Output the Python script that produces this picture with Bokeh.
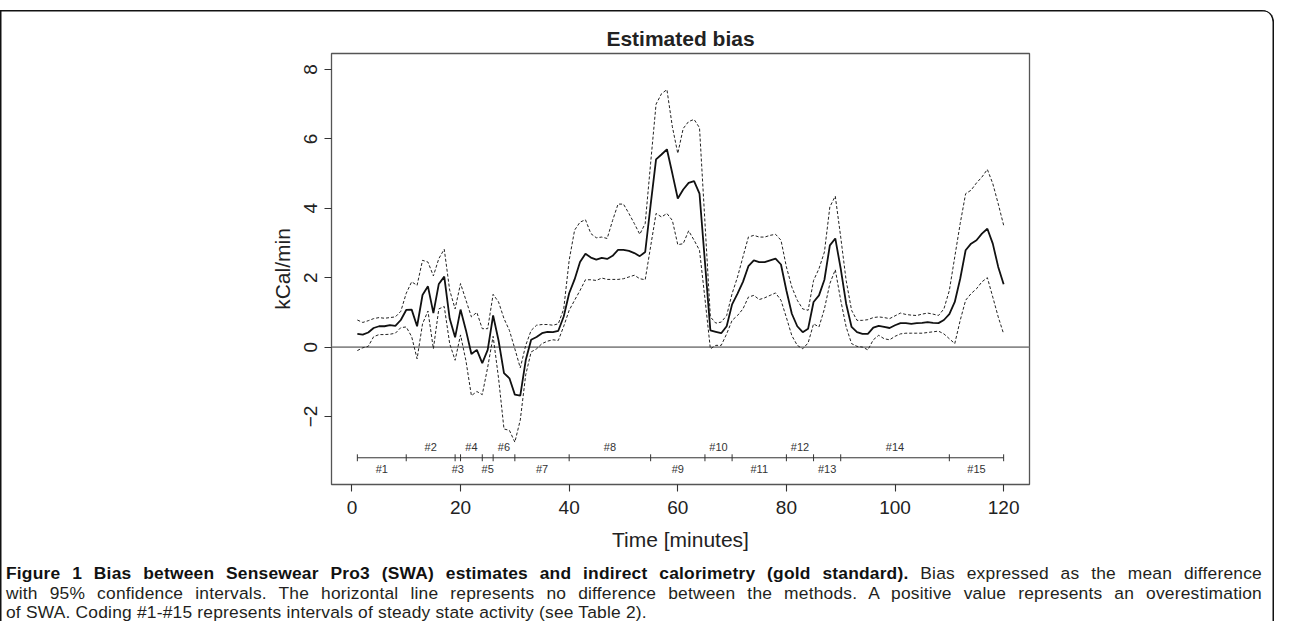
from bokeh.plotting import figure
from bokeh.models import Range1d, Span, LabelSet, ColumnDataSource, Spacer, Div
from bokeh.layouts import column
from bokeh.embed import file_html
from bokeh.resources import INLINE
from bokeh.core.properties import value

# ---------------- data ----------------
minutes = list(range(1, 121))

mean_bias = [
    0.38, 0.36, 0.42, 0.55, 0.60, 0.60, 0.63, 0.61, 0.78, 1.07,
    1.08, 0.60, 1.50, 1.75, 0.98, 1.82, 2.03, 0.82, 0.28, 1.08,
    0.48, -0.20, -0.08, -0.46, -0.08, 0.91, 0.19, -0.75, -0.90, -1.37,
    -1.40, -0.38, 0.21, 0.29, 0.40, 0.44, 0.43, 0.47, 0.88, 1.55,
    1.95, 2.45, 2.69, 2.58, 2.52, 2.57, 2.54, 2.63, 2.80, 2.80,
    2.77, 2.71, 2.62, 2.74, 4.10, 5.41, 5.55, 5.70, 5.00, 4.28,
    4.54, 4.73, 4.78, 4.42, 2.45, 0.48, 0.44, 0.40, 0.60, 1.23,
    1.54, 1.88, 2.33, 2.50, 2.45, 2.45, 2.50, 2.55, 2.38, 1.63,
    0.96, 0.60, 0.43, 0.53, 1.30, 1.49, 1.94, 2.93, 3.13, 2.26,
    1.25, 0.58, 0.43, 0.38, 0.38, 0.56, 0.61, 0.58, 0.55, 0.63,
    0.69, 0.69, 0.67, 0.69, 0.70, 0.72, 0.70, 0.69, 0.78, 0.95,
    1.30, 1.97, 2.79, 2.98, 3.08, 3.27, 3.41, 2.98, 2.31, 1.81,
]

upper_ci = [
    0.78, 0.71, 0.76, 0.82, 0.85, 0.83, 0.85, 0.87, 1.03, 1.55,
    1.88, 1.78, 2.50, 2.45, 2.05, 2.55, 2.82, 1.64, 1.10, 1.83,
    1.35, 0.87, 1.00, 0.53, 0.53, 1.52, 1.30, 0.82, 0.48, -0.05,
    -0.60, 0.05, 0.48, 0.63, 0.65, 0.65, 0.63, 0.67, 1.10, 2.50,
    3.37, 3.60, 3.67, 3.27, 3.15, 3.17, 3.13, 3.65, 4.12, 4.12,
    3.85, 3.56, 3.25, 3.56, 5.30, 7.00, 7.30, 7.42, 6.35, 5.58,
    6.30, 6.50, 6.56, 6.32, 3.60, 0.87, 0.69, 0.72, 0.91, 1.54,
    2.02, 2.60, 3.17, 3.22, 3.17, 3.17, 3.22, 3.25, 3.08, 2.31,
    1.73, 1.35, 1.10, 1.06, 1.92, 2.26, 2.74, 4.04, 4.35, 3.17,
    1.92, 1.06, 0.77, 0.77, 0.79, 0.85, 0.87, 0.85, 0.82, 0.90,
    0.98, 0.94, 0.92, 0.91, 0.95, 0.98, 0.95, 0.91, 1.10, 1.63,
    2.60, 3.56, 4.42, 4.52, 4.73, 4.90, 5.12, 4.71, 4.13, 3.51,
]

lower_ci = [
    -0.10, -0.02, 0.02, 0.30, 0.36, 0.36, 0.37, 0.40, 0.56, 0.58,
    0.30, -0.34, 0.67, 1.04, -0.05, 1.10, 1.17, 0.10, -0.38, 0.35,
    -0.40, -1.40, -1.28, -1.37, -0.58, 0.31, -0.90, -2.36, -2.40, -2.74,
    -2.10, -0.80, -0.14, -0.05, 0.10, 0.17, 0.21, 0.19, 0.60, 1.06,
    1.35, 1.63, 1.94, 1.94, 1.92, 1.99, 1.95, 1.95, 1.95, 1.97,
    2.02, 2.07, 1.97, 1.94, 2.90, 3.85, 3.75, 3.85, 3.65, 2.95,
    2.98, 3.35, 3.08, 2.79, 1.40, -0.05, 0.05, 0.05, 0.38, 0.77,
    0.91, 1.10, 1.44, 1.49, 1.37, 1.42, 1.49, 1.56, 1.35, 0.85,
    0.33, 0.05, -0.05, 0.12, 0.67, 0.58, 1.10, 1.83, 2.23, 1.35,
    0.58, 0.10, 0.02, 0.00, -0.08, 0.21, 0.34, 0.24, 0.21, 0.31,
    0.38, 0.40, 0.40, 0.40, 0.40, 0.42, 0.44, 0.46, 0.38, 0.24,
    0.10, 0.77, 1.35, 1.54, 1.68, 1.88, 2.00, 1.44, 0.87, 0.38,
]

interval_bounds = [1, 10, 19, 20, 24, 26, 30, 40, 55, 65, 70, 80, 85, 90, 110, 120]
interval_labels = ["#%d" % i for i in range(1, 16)]

x_ticks = [0, 20, 40, 60, 80, 100, 120]
y_ticks = [-2, 0, 2, 4, 6, 8]

title_text = "Estimated bias"
x_label = "Time [minutes]"
y_label = "kCal/min"

caption_bold = "Figure 1 Bias between Sensewear Pro3 (SWA) estimates and indirect calorimetry (gold standard)."
caption_line1 = "Bias expressed as the mean difference"
caption_line2 = ("with 95% confidence intervals. The horizontal line represents no difference "
                 "between the methods. A positive value represents an overestimation")
caption_line3 = "of SWA. Coding #1-#15 represents intervals of steady state activity (see Table 2)."

# ---------------- sizes ----------------
W = 1274
TOP_GAP = 10
H_MAIN = 550
H_CAP = 61

frame_ink = "#111111"
main_styles = {
    "box-shadow": "inset 1.5px 1.5px 0 0 %s, inset -1.5px 0 0 0 %s" % (frame_ink, frame_ink),
    "border-top-right-radius": "12px",
}
cap_styles = {
    "box-shadow": "inset 1.5px 0 0 0 %s, inset -1.5px 0 0 0 %s" % (frame_ink, frame_ink),
    "overflow": "visible",
}

# ---------------- main chart ----------------
p = figure(width=W, height=H_MAIN, x_range=Range1d(-3.76, 124.76), y_range=Range1d(-3.96, 8.46),
           output_backend="svg", toolbar_location=None,
           min_border_left=331, min_border_right=245, min_border_top=43, min_border_bottom=76,
           title=title_text, styles=main_styles)
p.grid.visible = False
p.background_fill_color = "white"
p.border_fill_color = None
p.outline_line_color = "#555555"
p.outline_line_width = 1.3

p.title.align = "center"
p.title.text_font = "Liberation Sans"
p.title.text_font_size = "21px"
p.title.text_font_style = "bold"
p.title.text_color = "#222222"
p.title.standoff = 7

for ax in (p.xaxis[0], p.yaxis[0]):
    ax.axis_line_color = None
    ax.major_tick_line_color = "#333333"
    ax.major_tick_line_width = 1.1
    ax.major_tick_out = 7
    ax.major_tick_in = 0
    ax.minor_tick_line_color = None
    ax.major_label_text_font = "Liberation Sans"
    ax.major_label_text_font_size = "19px"
    ax.major_label_text_color = "#222222"
    ax.axis_label_text_font = "Liberation Sans"
    ax.axis_label_text_font_size = "21px"
    ax.axis_label_text_font_style = "normal"
    ax.axis_label_text_color = "#222222"

p.xaxis.ticker = x_ticks
p.yaxis.ticker = y_ticks
p.yaxis.major_label_overrides = {-2: "\u22122"}
p.yaxis.major_label_orientation = "vertical"
p.xaxis.axis_label = x_label
p.yaxis.axis_label = y_label
p.xaxis.major_label_standoff = 9
p.xaxis.axis_label_standoff = 11
p.yaxis.major_label_standoff = 7
p.yaxis.axis_label_standoff = 8

# zero line
p.add_layout(Span(location=0, dimension="width", line_color="#8a8a8a", line_width=1.6, level="underlay"))

# confidence bands and mean
p.line(minutes, upper_ci, line_color="#222222", line_width=1.0, line_dash="3 2")
p.line(minutes, lower_ci, line_color="#222222", line_width=1.0, line_dash="3 2")
p.line(minutes, mean_bias, line_color="#111111", line_width=1.8)

# interval scale
scale_y = -3.19
p.line([interval_bounds[0], interval_bounds[-1]], [scale_y, scale_y], line_color="#333333", line_width=1.0)
p.segment(x0=interval_bounds, y0=[scale_y - 0.10] * len(interval_bounds),
          x1=interval_bounds, y1=[scale_y + 0.10] * len(interval_bounds),
          line_color="#333333", line_width=1.0)
mids = [(a + b) / 2.0 for a, b in zip(interval_bounds[:-1], interval_bounds[1:])]
lab_y = [scale_y + 0.30 if (i % 2 == 1) else scale_y - 0.31 for i in range(len(mids))]
src = ColumnDataSource(dict(x=mids, y=lab_y, t=interval_labels))
p.add_layout(LabelSet(x="x", y="y", text="t", source=src, text_align="center", text_baseline="middle",
                      text_font=value("Liberation Sans"), text_font_size="11px", text_color="#333333"))

# ---------------- caption ----------------
line_css = "text-align:justify;text-align-last:justify;margin:0;padding:0;white-space:normal;"
cap_html = (
    '<div style="box-sizing:content-box;margin:0;padding:4px 0 0 6px;width:1256px;'
    'font-family:\'Liberation Sans\',Arial,sans-serif;letter-spacing:0.2px;'
    'font-size:17.4px;line-height:19.5px;color:#231f20;">'
    '<div style="%s"><b style="color:#111111;">%s</b> %s</div>'
    '<div style="%s">%s</div>'
    '<div style="margin:0;padding:0;text-align:left;">%s</div>'
    '</div>'
) % (line_css, caption_bold, caption_line1, line_css, caption_line2, caption_line3)
cap = Div(text=cap_html, width=W, height=H_CAP, margin=(0, 0, 0, 0), styles=cap_styles)

layout = column(Spacer(width=W, height=TOP_GAP), p, cap, spacing=0)
open("out.html", "w").write(file_html(layout, INLINE))
